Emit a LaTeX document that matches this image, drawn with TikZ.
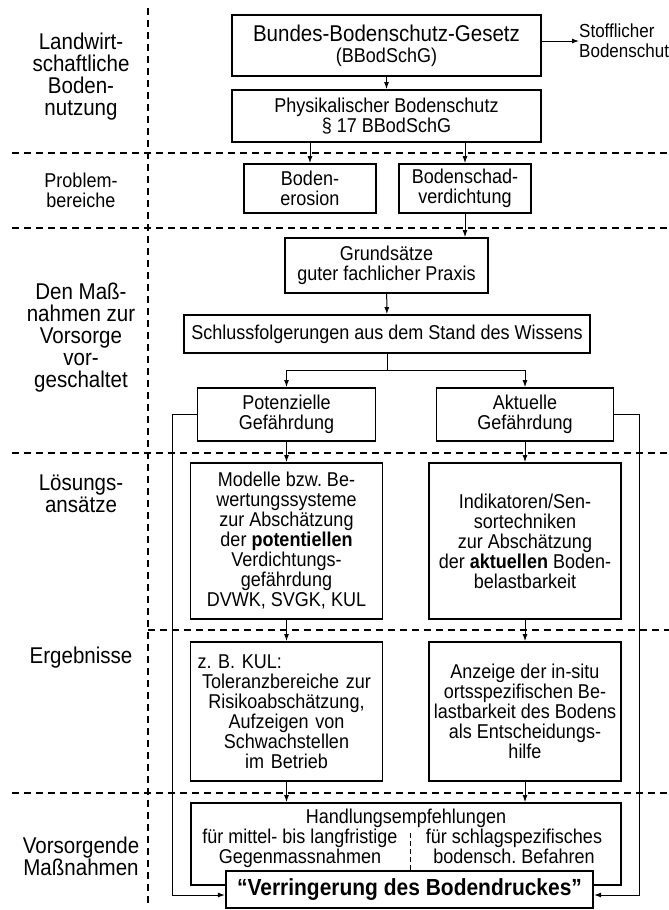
\documentclass[tikz,border=0pt]{standalone}
\usepackage{fontspec}
\setmainfont{Liberation Sans}[FakeStretch=0.9]
\usetikzlibrary{arrows.meta,calc}
\tikzset{>={Latex[length=7pt,width=5pt]}}
\frenchspacing

\begin{document}
\begin{tikzpicture}[x=1pt,y=-1pt,
  box/.style={draw,line width=1.8pt,align=center,inner sep=2pt,font=\fontsize{20}{20}\selectfont},
  txt/.style={align=center,inner sep=0pt,font=\fontsize{20}{20}\selectfont},
  side/.style={align=center,inner sep=0pt,font=\fontsize{22.8}{22}\selectfont},
  sep/.style={line width=1.2pt,dash pattern=on 7pt off 5pt},
  conn/.style={->,line width=1pt}]
\useasboundingbox (0,0) rectangle (669,910);

% Zeilenbeschriftung
\node[side] (lnutz) at (81,77) {Landwirt-\\schaftliche\\Boden-\\nutzung};
\node[txt] (lprob) at (81,190) {Problem-\\bereiche};
\node[side] (lvor) at (81,338) {Den Maß-\\nahmen zur\\Vorsorge\\vor-\\geschaltet};
\node[side] (lloes) at (81,494) {Lösungs-\\ansätze};
\node[side] (lerg) at (81,658) {Ergebnisse};
\node[side] (lmass) at (81,856) {Vorsorgende\\Maßnahmen};

% Trennlinien
\draw[sep] (148,8) -- (148,907);
\foreach \y in {153,228,453,793}
  \draw[sep] (12,\y) -- (669,\y);
\draw[sep] (148,630) -- (669,630);

% Kaesten
\node[box,minimum width=309pt,minimum height=61pt,font=\fontsize{22.8}{21}\selectfont] (bbsg) at (386.5,45.5)
  {Bundes-Bodenschutz-Gesetz\\{\fontsize{20}{20}\selectfont(BBodSchG)}};
\node[txt,anchor=west,align=left,font=\fontsize{18.9}{20}\selectfont] (stoff) at (579,41) {Stofflicher\\Bodenschutz};
\node[box,minimum width=309pt,minimum height=52pt] (phys) at (386.5,116) {Physikalischer Bodenschutz\\§ 17 BBodSchG};
\node[box,minimum width=132pt,minimum height=49pt] (eros) at (310,188.5) {Boden-\\erosion};
\node[box,minimum width=132pt,minimum height=49pt] (verd) at (465,188.5) {Bodenschad-\\verdichtung};
\node[box,minimum width=203pt,minimum height=55pt] (grund) at (386.5,265.5) {Grundsätze\\guter fachlicher Praxis};
\node[box,minimum width=406pt,minimum height=38pt] (schluss) at (387,334) {Schlussfolgerungen aus dem Stand des Wissens};
\node[box,minimum width=178pt,minimum height=53pt] (pot) at (286.5,414.5) {Potenzielle\\Gefährdung};
\node[box,minimum width=177pt,minimum height=53pt] (akt) at (525,414.5) {Aktuelle\\Gefährdung};
\node[box,minimum width=192pt,minimum height=156pt] (mod) at (286.5,541)
  {Modelle bzw. Be-\\wertungssysteme\\zur Abschätzung\\der \textbf{potentiellen}\\Verdichtungs-\\gefährdung\\DVWK, SVGK, KUL};
\node[box,minimum width=192pt,minimum height=156pt] (ind) at (525,541)
  {Indikatoren/Sen-\\sortechniken\\zur Abschätzung\\der \textbf{aktuellen} Boden-\\belastbarkeit};
\node[box,minimum width=192pt,minimum height=139pt,text width=178pt] (kul) at (286.5,711.5)
  {\makebox[\linewidth][l]{z. B. KUL:}\\Toleranzbereiche zur\\Risikoabschätzung,\\Aufzeigen von\\Schwachstellen\\im Betrieb};
\node[box,minimum width=192pt,minimum height=139pt] (anz) at (525,711.5)
  {Anzeige der in-situ\\ortsspezifischen Be-\\lastbarkeit des Bodens\\als Entscheidungs-\\hilfe};
\node[box,minimum width=430pt,minimum height=82pt] (handl) at (406,844) {};
\node[txt] (handlt) at (406,818.5) {Handlungsempfehlungen};
\node[txt] (handla) at (300,848.5) {für mittel- bis langfristige\\Gegenmassnahmen};
\node[txt] (handlb) at (514,846.5) {für schlagspezifisches\\bodensch. Befahren};
\coordinate (divtop) at (410,833);
\node[box,minimum width=367pt,minimum height=37pt,fill=white,line width=2.2pt,
  font=\fontsize{23.3}{24}\selectfont\bfseries] (verr) at (409.5,889.5) {“Verringerung des Bodendruckes”};

% Verbindungen
\coordinate (split) at ($(schluss.south)+(0,17)$);
\coordinate (verrl) at ($(verr.west)+(0,5.5)$);
\coordinate (verrr) at ($(verr.east)+(0,5.5)$);
\draw[line width=1pt,dash pattern=on 5pt off 3pt] (divtop) -- (divtop |- verr.north);
\path[conn]
  (bbsg.east |- stoff.west) edge (stoff.west)
  (bbsg) edge (phys)
  (eros.north |- phys.south) edge (eros.north)
  (verd.north |- phys.south) edge (verd.north)
  (verd.south) edge (verd.south |- grund.north)
  (grund) edge (schluss)
  (pot) edge (mod)
  (akt) edge (ind)
  (mod) edge (kul)
  (ind) edge (anz)
  (kul.south) edge (kul.south |- handl.north)
  (anz.south) edge (anz.south |- handl.north);
\draw[line width=1pt] (schluss.south) -- (split);
\draw[conn] (split) -| (pot.north);
\draw[conn] (split) -| (akt.north);
\draw[conn] (pot.west) -- ++(-24,0) |- (verrl);
\draw[conn] (akt.east) -- ++(25,0) |- (verrr);
\end{tikzpicture}
\end{document}
